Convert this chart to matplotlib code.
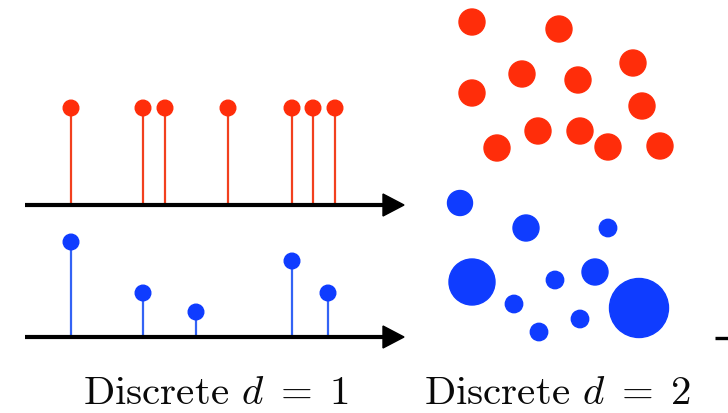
import matplotlib
matplotlib.use("Agg")
import matplotlib.pyplot as plt
from matplotlib.patches import Circle, Polygon

plt.rcParams['mathtext.fontset'] = 'cm'
plt.rcParams['axes.unicode_minus'] = False

W, H = 728, 414

# ---- data (pixel-like units) ----
red_stem_x = [71, 143, 165, 228, 292, 313, 335]
red_stem_h = [97, 97, 97, 97, 97, 97, 97]
blue_stem_x = [71, 143, 196, 292, 328]
blue_stem_h = [95, 44, 25, 76, 44]

red_dot_x = [472, 559, 633, 522, 578, 472, 642, 538, 580, 497, 608, 660]
red_dot_y = [23, 30, 64, 75, 81, 94, 107, 132, 132, 149, 148, 147]

blue_dot_x = [460, 526, 608, 472, 555, 595, 514, 580, 539, 639]
blue_dot_y = [204, 229, 229, 283, 281, 273, 305, 320, 333, 309]
blue_dot_r = [12.5, 13, 8.7, 23, 8.7, 13, 8.7, 8.7, 8.7, 29.5]

labels = [r"Discrete $d\;=\;1$", r"Discrete $d\;=\;2$"]

RED = '#ff2d0a'
RED_STEM = '#f2401e'
BLUE = '#0f3cff'
BLUE_STEM = '#3363f5'

fig = plt.figure(figsize=(W / 100, H / 100), dpi=100)
ax = fig.add_axes([0, 0, 1, 1])
ax.set_xlim(0, W)
ax.set_ylim(H, 0)
ax.axis('off')

def stems(xs, hs, base, color, stemcolor):
    for x, h in zip(xs, hs):
        ax.plot([x, x], [base, base - h], color=stemcolor, lw=1.6, zorder=2)
        ax.add_patch(Circle((x, base - h), 7.8, color=color, zorder=3))

def arrow(y, x0=25, x1=404):
    ax.plot([x0, x1 - 18], [y, y], color='black', lw=3.0, solid_capstyle='butt', zorder=4)
    ax.add_patch(Polygon([[x1 - 21, y - 11], [x1, y], [x1 - 21, y + 11]],
                         closed=True, color='black', zorder=4))

base_red = 206
base_blue = 338
stems(red_stem_x, red_stem_h, base_red, RED, RED_STEM)
stems(blue_stem_x, blue_stem_h, base_blue, BLUE, BLUE_STEM)
arrow(base_red)
arrow(base_blue)

for x, y in zip(red_dot_x, red_dot_y):
    ax.add_patch(Circle((x, y), 13, color=RED, zorder=3))
for x, y, r in zip(blue_dot_x, blue_dot_y, blue_dot_r):
    ax.add_patch(Circle((x, y), r, color=BLUE, zorder=3))

# partial arrow at right edge
ax.plot([715, 728], [339, 339], color='black', lw=2.4, solid_capstyle='butt')

ax.text(216, 404, labels[0], ha='center', va='baseline', fontsize=29.5,
        family='cmr10', color='#0a0a0a')
ax.text(557, 404, labels[1], ha='center', va='baseline', fontsize=29.5,
        family='cmr10', color='#0a0a0a')

fig.savefig('out.png', dpi=100)
